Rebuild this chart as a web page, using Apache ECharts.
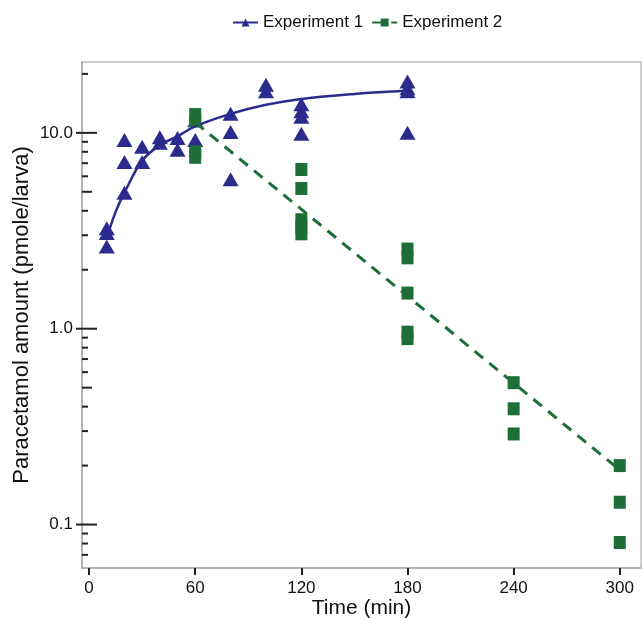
<!DOCTYPE html>
<html>
<head>
<meta charset="utf-8">
<script src="https://cdn.jsdelivr.net/npm/echarts@6/dist/echarts.min.js"></script>
<style>
  html, body { margin: 0; padding: 0; background: #fff; }
  #chart { width: 643px; height: 619px; }
</style>
</head>
<body>
<div id="chart"></div>
<script>
// ---- Data ----
// Experiment 1 (triangles): time (min) and amount (pmole/larva)
const exp1Times  = [10, 10, 10, 20, 20, 20, 30, 30, 40, 40, 50, 50, 60, 60, 80, 80, 80, 100, 100, 120, 120, 120, 120, 180, 180, 180, 180];
const exp1Values = [3.26, 3.08, 2.63, 9.2, 7.1, 4.95, 8.5, 7.1, 9.5, 8.9, 9.4, 8.2, 11.6, 9.2, 12.5, 10.1, 5.8, 17.6, 16.3, 14.0, 12.9, 12.1, 9.9, 18.3, 16.9, 16.3, 10.0];

// Experiment 2 (squares)
const exp2Times  = [60, 60, 60, 60, 120, 120, 120, 120, 120, 180, 180, 180, 180, 180, 240, 240, 240, 300, 300, 300];
const exp2Values = [12.4, 11.5, 8.0, 7.5, 6.5, 5.2, 3.6, 3.3, 3.05, 2.55, 2.3, 1.52, 0.96, 0.89, 0.53, 0.39, 0.29, 0.20, 0.13, 0.081];

// Fitted curves
const fit1Times  = [10, 15, 20, 30, 40, 50, 60, 80, 100, 120, 150, 180];
const fit1Values = [2.9, 3.95, 4.95, 7.2, 8.65, 9.6, 10.8, 12.5, 13.9, 14.9, 15.8, 16.4];
const fit2Times  = [60, 300];
const fit2Values = [11.3, 0.19];

// Axis ticks
const xTicks = [0, 60, 120, 180, 240, 300];
const yMajorTicks = [0.1, 1, 10];
const yMinorTicks = [0.07, 0.08, 0.09, 0.2, 0.3, 0.4, 0.5, 0.6, 0.7, 0.8, 0.9, 2, 3, 4, 5, 6, 7, 8, 9, 20];

const seriesNames = ['Experiment 1', 'Experiment 2'];

// ---- Styling ----
const BLUE = '#2a2b8c';
const GREEN = '#1d6f37';
const FONT = '"Liberation Sans", Arial, sans-serif';

const zip = (a, b) => a.map((v, i) => [v, b[i]]);

const chart = echarts.init(document.getElementById('chart'), null, { renderer: 'canvas' });

const yTickData = yMajorTicks.concat(yMinorTicks).map(v => [0, v]);

const option = {
  backgroundColor: '#ffffff',
  animation: false,
  textStyle: { fontFamily: FONT },
  legend: {
    data: seriesNames,
    left: 227,
    top: 9,
    itemWidth: 25,
    itemHeight: 10,
    itemGap: 8,
    textStyle: { fontSize: 17, color: '#111', fontFamily: FONT }
  },
  grid: {
    left: 82, right: 2, top: 62, bottom: 51,
    outerBoundsMode: 'none',
    containLabel: false,
    show: true,
    borderColor: '#bdbdbd',
    borderWidth: 1.5
  },
  xAxis: {
    type: 'value',
    min: -4,
    max: 312,
    name: 'Time (min)',
    nameLocation: 'middle',
    nameGap: 30,
    nameMoveOverlap: false,
    nameTextStyle: { fontSize: 21, color: '#111', fontFamily: FONT },
    axisLine: { show: true, onZero: false, lineStyle: { color: '#aaaaaa', width: 1.5 } },
    axisTick: { show: true, customValues: xTicks, inside: false, length: 7, lineStyle: { color: '#222', width: 2 } },
    axisLabel: { customValues: xTicks, margin: 12, fontSize: 17, color: '#111', fontFamily: FONT },
    splitLine: { show: false }
  },
  yAxis: {
    type: 'log',
    logBase: 10,
    min: 0.06,
    max: 23,
    name: 'Paracetamol amount (pmole/larva)',
    nameLocation: 'middle',
    nameGap: 49,
    nameMoveOverlap: false,
    nameTextStyle: { fontSize: 22, color: '#111', fontFamily: FONT },
    axisLine: { show: true, onZero: false, lineStyle: { color: '#aaaaaa', width: 1.5 } },
    axisTick: { show: false },
    axisLabel: {
      margin: 9,
      fontSize: 17,
      color: '#111',
      fontFamily: FONT,
      formatter: function (v) {
        const lg = Math.log10(v);
        if (Math.abs(lg - Math.round(lg)) < 1e-6) return v.toFixed(1);
        return '';
      }
    },
    splitLine: { show: false },
    minorTick: { show: false }
  },
  series: [
    {
      name: 'Experiment 1 data',
      type: 'scatter',
      symbol: 'triangle',
      symbolSize: [16, 14],
      itemStyle: { color: BLUE, opacity: 1 },
      data: zip(exp1Times, exp1Values),
      z: 3
    },
    {
      name: 'Experiment 2 data',
      type: 'scatter',
      symbol: 'rect',
      symbolSize: [12, 13],
      itemStyle: { color: GREEN, opacity: 1 },
      data: zip(exp2Times, exp2Values),
      z: 4
    },
    {
      name: seriesNames[0],
      type: 'line',
      smooth: 0.4,
      symbol: 'triangle',
      symbolSize: 9,
      showSymbol: false,
      itemStyle: { color: BLUE },
      lineStyle: { color: BLUE, width: 2.5 },
      data: zip(fit1Times, fit1Values),
      z: 5
    },
    {
      name: seriesNames[1],
      type: 'line',
      symbol: 'rect',
      symbolSize: 7,
      showSymbol: false,
      itemStyle: { color: GREEN },
      lineStyle: { color: GREEN, width: 3, type: [11, 8] },
      data: zip(fit2Times, fit2Values),
      z: 5
    },
    {
      name: 'y ticks',
      type: 'custom',
      clip: false,
      silent: true,
      z: 6,
      data: yTickData,
      renderItem: function (params, api) {
        const v = api.value(1);
        const y = api.coord([0, v])[1];
        const x0 = params.coordSys.x;
        const lg = Math.log10(v);
        const frac = lg - Math.floor(lg + 1e-9);
        let out = 0, inn = 6;
        if (Math.abs(lg - Math.round(lg)) < 1e-6) { out = 6; inn = 15; }
        else if (Math.abs(frac - Math.log10(5)) < 1e-6) { inn = 10; }
        return {
          type: 'line',
          shape: { x1: x0 - out, y1: y, x2: x0 + inn, y2: y },
          style: { stroke: '#222', lineWidth: 2 }
        };
      }
    }
  ]
};

chart.setOption(option);
</script>
</body>
</html>
